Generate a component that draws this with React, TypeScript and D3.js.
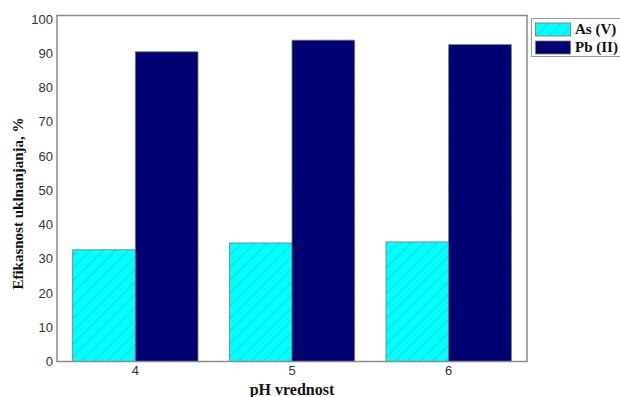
import React from 'react';
import * as d3 from 'd3';

const phValues = ['4', '5', '6'];
const seriesNames = ['As (V)', 'Pb (II)'];
const asValues = [32.6, 34.6, 34.9];
const pbValues = [90.4, 93.8, 92.5];
const yTicks = [0, 10, 20, 30, 40, 50, 60, 70, 80, 90, 100];

const W = 620;
const H = 397;
const margin = { top: 15.5, right: 93, bottom: 35.5, left: 57 };

const fills = ['url(#hatchAs)', 'url(#gridPb)'];

export default function App() {
  const x0 = d3
    .scaleBand()
    .domain(phValues)
    .range([margin.left, W - margin.right])
    .paddingInner(0.2)
    .paddingOuter(0.1);

  const x1 = d3
    .scaleBand()
    .domain(seriesNames)
    .range([0, x0.bandwidth()]);

  const y = d3
    .scaleLinear()
    .domain([0, 101])
    .range([H - margin.bottom, margin.top]);

  const series = [asValues, pbValues];
  const plotW = W - margin.left - margin.right;
  const plotH = H - margin.top - margin.bottom;

  return (
    <div style={{ position: 'absolute', left: 0, top: 0 }}>
      <svg width={W} height={H} style={{ display: 'block', background: '#fff' }}>
        <defs>
          <pattern id="hatchAs" patternUnits="userSpaceOnUse" width="9" height="9" patternTransform="rotate(45)">
            <rect width="9" height="9" fill="#00ffff" />
            <line x1="0" y1="0" x2="0" y2="9" stroke="#14b4b4" strokeWidth="1" />
          </pattern>
          <pattern id="gridPb" patternUnits="userSpaceOnUse" width="5.2" height="5.2">
            <rect width="5.2" height="5.2" fill="#00007e" />
            <path d="M0,0 H5.2 M0,0 V5.2" stroke="#00002a" strokeWidth="0.8" fill="none" />
          </pattern>
        </defs>

        {/* bars */}
        {phValues.map((ph, i) => (
          <g key={ph} transform={`translate(${x0(ph)},0)`}>
            {seriesNames.map((name, s) => (
              <rect
                key={name}
                x={x1(name)}
                y={y(series[s][i])}
                width={x1.bandwidth()}
                height={y(0) - y(series[s][i])}
                fill={fills[s]}
                stroke="#777"
                strokeWidth={0.8}
              />
            ))}
          </g>
        ))}

        {/* frame */}
        <rect
          x={margin.left}
          y={margin.top}
          width={plotW}
          height={plotH}
          fill="none"
          stroke="#8a8a8a"
          strokeWidth={1.5}
        />

        {/* y tick labels */}
        {yTicks.map(t => (
          <text
            key={t}
            x={margin.left - 4}
            y={y(t)}
            dy="0.36em"
            textAnchor="end"
            fontFamily="'Liberation Sans', Arial, sans-serif"
            fontSize={13}
            fill="#333"
          >
            {t}
          </text>
        ))}

        {/* x tick labels */}
        {phValues.map(ph => (
          <text
            key={ph}
            x={(x0(ph) ?? 0) + x0.bandwidth() / 2}
            y={y(0) + 13}
            textAnchor="middle"
            fontFamily="'Liberation Sans', Arial, sans-serif"
            fontSize={13}
            fill="#333"
          >
            {ph}
          </text>
        ))}

        {/* axis titles */}
        <text
          x={292}
          y={395}
          textAnchor="middle"
          fontFamily="'Liberation Serif', 'Times New Roman', serif"
          fontWeight="bold"
          fontSize={16}
          fill="#111"
        >
          pH vrednost
        </text>
        <text
          transform={`translate(23,${margin.top + plotH / 2 + 15}) rotate(-90)`}
          textAnchor="middle"
          fontFamily="'Liberation Serif', 'Times New Roman', serif"
          fontWeight="bold"
          fontSize={15}
          fill="#111"
        >
          Efikasnost uklnanjanja, %
        </text>

        {/* legend */}
        <g>
          <rect x={531.5} y={18.5} width={100} height={38} fill="#fff" stroke="#999" strokeWidth={1} />
          {seriesNames.map((name, s) => (
            <g key={name} transform={`translate(535.5,${23 + s * 18})`}>
              <rect width={35} height={13} fill={fills[s]} stroke="#777" strokeWidth={0.8} />
              <text
                x={39.5}
                y={11}
                fontFamily="'Liberation Serif', 'Times New Roman', serif"
                fontWeight="bold"
                fontSize={15}
                fill="#111"
              >
                {name}
              </text>
            </g>
          ))}
        </g>
      </svg>
    </div>
  );
}
